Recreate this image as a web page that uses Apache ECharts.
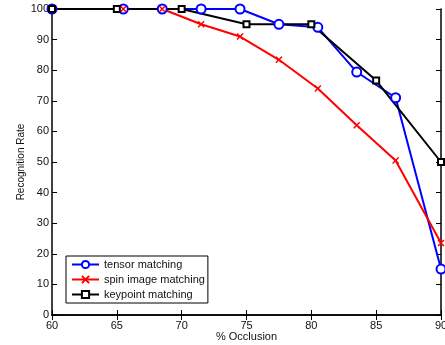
<!DOCTYPE html>
<html>
<head>
<meta charset="utf-8">
<script src="https://cdn.jsdelivr.net/npm/echarts@6/dist/echarts.min.js"></script>
<style>
  html, body { margin: 0; padding: 0; background: #fff; }
  #chart { width: 445px; height: 345px; }
</style>
</head>
<body>
<div id="chart"></div>
<script>
// occlusion (%) vs recognition rate (%)
const tensorX = [60, 65.5, 68.5, 71.5, 74.5, 77.5, 80.5, 83.5, 86.5, 90];
const tensorY = [100, 100, 100, 100, 100, 95, 94, 79.4, 71, 15];
const spinX = [60, 65.5, 68.5, 71.5, 74.5, 77.5, 80.5, 83.5, 86.5, 90];
const spinY = [100, 100, 100, 95, 91, 83.4, 74, 62, 50.5, 23.5];
const keyX = [60, 65, 70, 75, 80, 85, 90];
const keyY = [100, 100, 100, 95, 95, 76.6, 50];
const seriesNames = ['tensor matching', 'spin image matching', 'keypoint matching'];

const zip = (xs, ys) => xs.map((x, i) => [x, ys[i]]);
const font = 'Liberation Sans, Arial, sans-serif';

const chart = echarts.init(document.getElementById('chart'));

const axisCommon = {
  axisLine: { lineStyle: { color: '#000', width: 1.5 } },
  axisTick: { inside: true, length: 5, lineStyle: { color: '#000' } },
  splitLine: { show: false },
};

const options = {
  animation: false,
  backgroundColor: '#fff',
  grid: { left: 52, right: 4, top: 9, bottom: 30, outerBoundsMode: 'none' },
  textStyle: { fontFamily: font },
  legend: {
    orient: 'vertical',
    left: 66,
    top: 256,
    itemWidth: 27,
    itemHeight: 9,
    itemGap: 4,
    padding: [3, 3, 3, 5],
    borderColor: '#000',
    borderWidth: 1,
    backgroundColor: '#fff',
    textStyle: { fontSize: 11, color: '#111', fontFamily: font },
    data: seriesNames,
  },
  xAxis: [
    {
      ...axisCommon,
      type: 'value',
      min: 60, max: 90, interval: 5,
      name: '% Occlusion',
      nameLocation: 'middle',
      nameGap: 16,
      nameMoveOverlap: false,
      nameTextStyle: { fontSize: 11, color: '#111', verticalAlign: 'top' },
      axisLabel: { fontSize: 11, color: '#111', margin: 5 },
    },
    {
      ...axisCommon,
      type: 'value',
      position: 'top',
      min: 60, max: 90, interval: 5,
      axisLabel: { show: false },
    },
  ],
  yAxis: [
    {
      ...axisCommon,
      type: 'value',
      min: 0, max: 100, interval: 10,
      name: 'Recognition Rate',
      nameLocation: 'middle',
      nameGap: 26,
      nameMoveOverlap: false,
      nameTextStyle: { fontSize: 10, color: '#111' },
      axisLabel: { fontSize: 11, color: '#111', margin: 3 },
    },
    {
      ...axisCommon,
      type: 'value',
      position: 'right',
      min: 0, max: 100, interval: 10,
      axisLabel: { show: false },
    },
  ],
  series: [
    {
      name: seriesNames[0],
      type: 'line',
      data: zip(tensorX, tensorY),
      symbol: 'emptyCircle',
      symbolSize: 9,
      lineStyle: { color: '#0000ff', width: 2 },
      itemStyle: { color: '#0000ff', borderWidth: 1.5 },
    },
    {
      name: seriesNames[1],
      type: 'line',
      data: zip(spinX, spinY),
      symbol: 'path://M0,0L10,10M10,0L0,10',
      symbolSize: 6,
      lineStyle: { color: '#ff0000', width: 2 },
      itemStyle: { color: '#ff0000', borderColor: '#ff0000', borderWidth: 1.5 },
    },
    {
      name: seriesNames[2],
      type: 'line',
      data: zip(keyX, keyY),
      symbol: 'emptyRect',
      symbolSize: 6,
      lineStyle: { color: '#000', width: 2 },
      itemStyle: { color: '#000', borderWidth: 1.5 },
    },
  ],
};

chart.setOption(options);
</script>
</body>
</html>
